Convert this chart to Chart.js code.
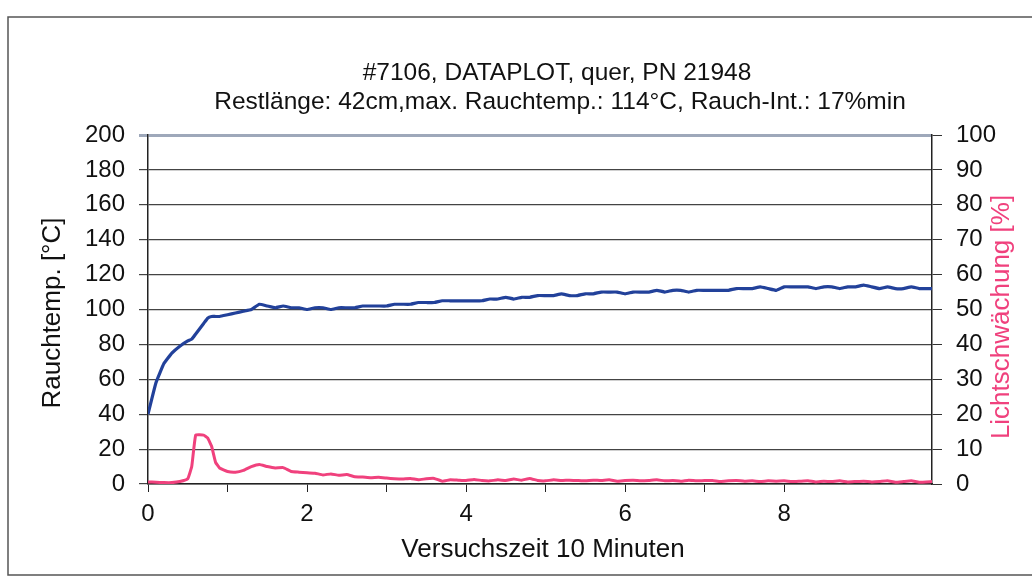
<!DOCTYPE html>
<html>
<head>
<meta charset="utf-8">
<script src="https://cdn.jsdelivr.net/npm/chart.js@4"></script>
<style>
  body { margin: 0; background: #fff; }
  #myChart { display: block; }
</style>
</head>
<body>
<canvas id="myChart" width="1032" height="578"></canvas>
<script>
// time in minutes
var minutes = [0, 0.1, 0.2, 0.3, 0.4, 0.5, 0.55, 0.6, 0.7, 0.75, 0.8, 0.85, 0.9,
    1.0, 1.1, 1.2, 1.3, 1.4, 1.5, 1.6, 1.7, 1.8, 1.9,
    2.0, 2.1, 2.2, 2.3, 2.4, 2.5, 2.6, 2.7, 2.8, 2.9,
    3.0, 3.1, 3.2, 3.3, 3.4, 3.5, 3.6, 3.7, 3.8, 3.9,
    4.0, 4.1, 4.2, 4.3, 4.4, 4.5, 4.6, 4.7, 4.8, 4.9,
    5.0, 5.1, 5.2, 5.3, 5.4, 5.5, 5.6, 5.7, 5.8, 5.9,
    6.0, 6.1, 6.2, 6.3, 6.4, 6.5, 6.6, 6.7, 6.8, 6.9,
    7.0, 7.1, 7.2, 7.3, 7.4, 7.5, 7.6, 7.7, 7.8, 7.9,
    8.0, 8.1, 8.2, 8.3, 8.4, 8.5, 8.6, 8.7, 8.8, 8.9,
    9.0, 9.1, 9.2, 9.3, 9.4, 9.5, 9.6, 9.7, 9.86];

// Rauchtemp. [°C]
var rauchtemp = [40, 58, 69, 75, 79, 82, 83, 86, 92, 95, 96, 96, 96,
    97, 98, 99, 100, 103, 102, 101, 102, 101, 101,
    100, 101, 101, 100, 101, 101, 101, 102, 102, 102,
    102, 103, 103, 103, 104, 104, 104, 105, 105, 105,
    105, 105, 105, 106, 106, 107, 106, 107, 107, 108,
    108, 108, 109, 108, 108, 109, 109, 110, 110, 110,
    109, 110, 110, 110, 111, 110, 111, 111, 110, 111,
    111, 111, 111, 111, 112, 112, 112, 113, 112, 111,
    113, 113, 113, 113, 112, 113, 113, 112, 113, 113,
    114, 113, 112, 113, 112, 112, 113, 112, 112];

// Lichtschwächung [%]
var lichtschwaechung = [0.6, 0.5, 0.4, 0.4, 0.7, 1.5, 5, 14, 14, 13.2, 10.8, 6.2, 4.6,
    3.6, 3.4, 3.9, 5.0, 5.6, 5.0, 4.6, 4.7, 3.6, 3.4,
    3.2, 3.1, 2.6, 2.9, 2.5, 2.7, 2.1, 2.0, 1.8, 1.9,
    1.7, 1.5, 1.4, 1.6, 1.2, 1.5, 1.6, 0.8, 1.2, 1.1,
    1.0, 1.3, 1.0, 0.9, 1.2, 1.0, 1.4, 1.1, 1.6, 1.0,
    0.9, 1.2, 1.0, 1.1, 1.0, 0.9, 1.1, 1.0, 1.2, 0.8,
    1.0, 1.1, 0.9, 1.0, 1.2, 0.9, 1.0, 0.8, 1.1, 0.9,
    1.0, 1.0, 0.7, 0.9, 1.0, 0.8, 0.9, 0.7, 0.9, 0.8,
    0.9, 0.7, 0.8, 0.9, 0.6, 0.8, 0.7, 0.9, 0.6, 0.7,
    0.8, 0.6, 0.7, 0.9, 0.5, 0.7, 0.9, 0.5, 0.7];

var titleLines = ["#7106, DATAPLOT, quer, PN 21948",
    "Restlänge: 42cm,max. Rauchtemp.: 114°C, Rauch-Int.: 17%min"];
var xTitle = "Versuchszeit 10 Minuten";
var yTitle = "Rauchtemp. [°C]";
var y1Title = "Lichtschwächung [%]";

var fontFam = "'Liberation Sans', Arial, sans-serif";
var blue = "#22419a";
var pink = "#f0417d";

function points(ys) {
    var out = [];
    for (var i = 0; i < minutes.length; i++) {
        out.push({x: minutes[i], y: ys[i]});
    }
    return out;
}

// frame + titles drawn on the canvas
var decor = {
    id: "decor",
    beforeDraw: function(chart) {
        var c = chart.ctx;
        c.save();
        c.fillStyle = "#fff";
        c.fillRect(0, 0, chart.width, chart.height);
        c.strokeStyle = "#555";
        c.lineWidth = 1.5;
        c.strokeRect(8, 17, 1040, 558);
        c.restore();
    },
    afterDraw: function(chart) {
        var c = chart.ctx;
        c.save();
        c.fillStyle = "#111";
        c.textAlign = "center";
        c.textBaseline = "middle";
        c.font = "24.5px " + fontFam;
        c.fillText(titleLines[0], 557, 73);
        c.fillText(titleLines[1], 560, 102);
        c.font = "26px " + fontFam;
        c.fillText(xTitle, 543, 550);
        c.translate(53, 313);
        c.rotate(-Math.PI / 2);
        c.fillText(yTitle, 0, 0);
        c.restore();
        c.save();
        c.fillStyle = pink;
        c.textAlign = "center";
        c.textBaseline = "middle";
        c.font = "26px " + fontFam;
        c.translate(1002, 317);
        c.rotate(-Math.PI / 2);
        c.fillText(y1Title, 0, 0);
        c.restore();
    }
};

var ctx = document.getElementById("myChart");
var chart = new Chart(ctx, {
    type: "line",
    data: {
        datasets: [{
            label: yTitle,
            data: points(rauchtemp),
            yAxisID: "y",
            borderColor: blue,
            borderWidth: 3.2,
            pointRadius: 0,
            tension: 0.1
        }, {
            label: y1Title,
            data: points(lichtschwaechung),
            yAxisID: "y1",
            borderColor: pink,
            borderWidth: 3,
            pointRadius: 0,
            tension: 0.1
        }]
    },
    options: {
        responsive: false,
        animation: false,
        layout: { padding: { top: 135, left: 0, right: 0, bottom: 0 } },
        plugins: {
            legend: { display: false },
            tooltip: { enabled: false }
        },
        scales: {
            x: {
                type: "linear",
                min: 0,
                max: 9.86,
                afterBuildTicks: function(s) {
                    s.ticks = s.ticks.filter(function(t) { return Number.isInteger(t.value); });
                },
                afterFit: function(s) { s.height = 94; },
                ticks: {
                    stepSize: 1,
                    autoSkip: false,
                    maxRotation: 0,
                    color: "#111",
                    padding: 8,
                    font: { family: fontFam, size: 24 },
                    callback: function(v) { return v % 2 === 0 ? String(v) : ""; }
                },
                grid: { drawOnChartArea: false, drawTicks: true, tickLength: 8, color: "#222" },
                border: { color: "#222", width: 1.5 }
            },
            y: {
                position: "left",
                min: 0,
                max: 200,
                afterFit: function(s) { s.width = 148; },
                ticks: {
                    stepSize: 20,
                    color: "#111",
                    padding: 14,
                    font: { family: fontFam, size: 24 }
                },
                grid: {
                    tickLength: 9,
                    color: function(c) { return c.tick && c.tick.value === 200 ? "#9ea8ba" : "#444"; },
                    lineWidth: function(c) { return c.tick && c.tick.value === 200 ? 3 : 1.2; }
                },
                border: { color: "#222", width: 1.5 }
            },
            y1: {
                position: "right",
                min: 0,
                max: 100,
                afterFit: function(s) { s.width = 100; },
                ticks: {
                    stepSize: 10,
                    color: "#111",
                    padding: 14,
                    font: { family: fontFam, size: 24 }
                },
                grid: { drawOnChartArea: false, tickLength: 10, color: "#333" },
                border: { color: "#222", width: 1.5 }
            }
        }
    },
    plugins: [decor]
});
</script>
</body>
</html>
